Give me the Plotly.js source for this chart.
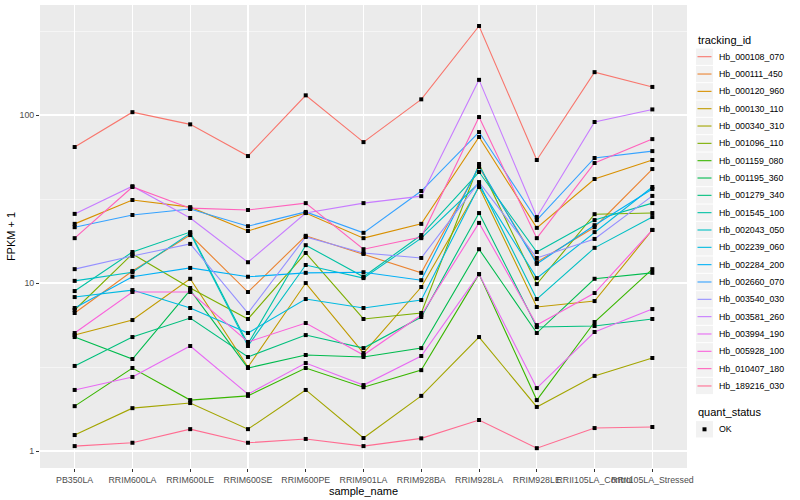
<!DOCTYPE html>
<html>
<head>
<meta charset="utf-8">
<script src="https://cdn.plot.ly/plotly-3.0.1.min.js"></script>
<style>html,body{margin:0;padding:0;background:#fff;}#chart{width:800px;height:500px;}</style>
</head>
<body>
<div id="chart"></div>
<script>
const categories = ["PB350LA","RRIM600LA","RRIM600LE","RRIM600SE","RRIM600PE","RRIM901LA","RRIM928BA","RRIM928LA","RRIM928LE","RRII105LA_Control","RRII105LA_Stressed"];

const trackingIds = ["Hb_000108_070","Hb_000111_450","Hb_000120_960","Hb_000130_110","Hb_000340_310","Hb_001096_110","Hb_001159_080","Hb_001195_360","Hb_001279_340","Hb_001545_100","Hb_002043_050","Hb_002239_060","Hb_002284_200","Hb_002660_070","Hb_003540_030","Hb_003581_260","Hb_003994_190","Hb_005928_100","Hb_010407_180","Hb_189216_030"];

const seriesColors = ["#F8766D","#EA8331","#D89000","#C09B00","#A3A500","#7CAE00","#39B600","#00BB4E","#00BF7D","#00C1A3","#00BFC4","#00BAE0","#00B0F6","#35A2FF","#9590FF","#C77CFF","#E76BF3","#FA62DB","#FF62BC","#FF6C91"];

const quantStatus = ["OK"];

// FPKM + 1 values, one array per tracking_id (order follows categories)
const hb_000108_070 = [64.5, 104, 88, 57, 131, 69, 124, 339, 54, 180, 147];
const hb_000111_450 = [6.63, 11.8, 19.3, 8.84, 19.1, 14.9, 11.5, 49.0, 13.3, 21.5, 47.7];
const hb_000120_960 = [22.5, 31.2, 28.3, 20.4, 26.1, 18.5, 22.5, 74, 21.3, 41.6, 54];
const hb_000130_110 = [4.90, 6.02, 10.6, 3.16, 10.0, 3.83, 9.47, 37.3, 7.20, 7.81, 20.7];
const hb_000340_310 = [1.245, 1.80, 1.93, 1.35, 2.31, 1.195, 2.13, 4.77, 1.83, 2.80, 3.58];
const hb_001096_110 = [6.91, 14.9, 9.34, 6.11, 15.1, 6.11, 6.63, 51.1, 9.86, 25.7, 26.1];
const hb_001159_080 = [1.85, 3.12, 2.01, 2.13, 3.12, 2.40, 3.03, 11.3, 2.01, 5.86, 12.1];
const hb_001195_360 = [4.77, 3.53, 9.08, 3.12, 3.73, 3.63, 4.10, 15.9, 5.04, 10.6, 11.5];
const hb_001279_340 = [3.21, 4.77, 6.19, 3.63, 4.90, 4.10, 6.28, 26.1, 5.47, 5.55, 6.11];
const hb_001545_100 = [8.96, 15.3, 20.1, 4.34, 16.8, 10.9, 19.3, 45.8, 15.3, 23.7, 29.9];
const hb_002043_050 = [10.3, 11.6, 19.8, 4.22, 12.8, 10.7, 18.5, 39.4, 8.03, 16.2, 24.7];
const hb_002239_060 = [8.25, 9.08, 7.10, 5.04, 8.03, 7.10, 7.92, 37.8, 10.7, 20.1, 37.3];
const hb_002284_200 = [7.10, 10.9, 12.3, 10.9, 11.5, 11.6, 10.4, 49.7, 13.0, 22.1, 36.3];
const hb_002660_070 = [21.5, 25.4, 27.6, 21.8, 26.5, 19.9, 35.3, 79.2, 23.7, 55.5, 61];
const hb_003540_030 = [12.1, 14.5, 17.1, 6.63, 18.8, 15.1, 14.1, 39.9, 14.1, 18.3, 33.0];
const hb_003581_260 = [25.8, 37.7, 24.4, 13.3, 26.1, 29.9, 32.9, 162, 24.7, 90.9, 108];
const hb_003994_190 = [2.31, 2.76, 4.22, 2.18, 3.34, 2.47, 3.68, 11.3, 2.37, 5.11, 7.0];
const hb_005928_100 = [5.04, 8.84, 8.84, 4.46, 5.78, 3.73, 6.45, 22.8, 5.62, 8.72, 20.7];
const hb_010407_180 = [18.5, 37.3, 27.9, 27.2, 29.9, 15.9, 18.8, 97.3, 18.5, 51.8, 71.9];
const hb_189216_030 = [1.07, 1.12, 1.35, 1.12, 1.18, 1.07, 1.19, 1.53, 1.04, 1.37, 1.39];

const seriesValues = [hb_000108_070, hb_000111_450, hb_000120_960, hb_000130_110, hb_000340_310, hb_001096_110, hb_001159_080, hb_001195_360, hb_001279_340, hb_001545_100, hb_002043_050, hb_002239_060, hb_002284_200, hb_002660_070, hb_003540_030, hb_003581_260, hb_003994_190, hb_005928_100, hb_010407_180, hb_189216_030];

const yTickVals = [1, 10, 100];
const yTickText = ["1", "10", "100"];
const yMinorVals = [3.1623, 31.623, 316.23];

const FONT = "Liberation Sans, Arial, Helvetica, sans-serif";

// plot-area geometry (pixels)
const W = 800, H = 500;
const M = {l: 40, r: 113, t: 5, b: 32};
const PW = W - M.l - M.r, PH = H - M.t - M.b;
const px = x => (x - M.l) / PW;          // pixel x -> paper x
const py = y => (H - M.b - y) / PH;      // pixel y -> paper y

const traces = trackingIds.map((id, i) => ({
  type: "scatter",
  mode: "lines",
  x: categories,
  y: seriesValues[i],
  name: id,
  showlegend: false,
  line: {color: seriesColors[i], width: 1.1},
  hoverinfo: "name+y"
}));

// all points (quant_status = OK) drawn on top
const allX = [], allY = [];
seriesValues.forEach(vals => vals.forEach((v, j) => { allX.push(categories[j]); allY.push(v); }));
traces.push({
  type: "scatter",
  mode: "markers",
  x: allX,
  y: allY,
  name: quantStatus[0],
  showlegend: false,
  marker: {color: "#000000", symbol: "square", size: 4},
  hoverinfo: "y"
});

// ggplot-style legends (keys + labels)
const shapes = [], annotations = [];
const legX = 696, keyW = 17, step = 17.33, firstY = 56.7;
annotations.push({xref: "paper", yref: "paper", x: px(legX), y: py(40), text: "tracking_id",
  showarrow: false, xanchor: "left", yanchor: "middle", font: {family: FONT, size: 11, color: "#000"}});
trackingIds.forEach((id, i) => {
  const cy = firstY + i * step;
  shapes.push({type: "rect", xref: "paper", yref: "paper", x0: px(legX), x1: px(legX + keyW),
    y0: py(cy - step / 2 + 0.5), y1: py(cy + step / 2 - 0.5), fillcolor: "#F2F2F2", line: {width: 0}, layer: "below"});
  shapes.push({type: "line", xref: "paper", yref: "paper", x0: px(legX + 1.5), x1: px(legX + keyW - 1.5),
    y0: py(cy), y1: py(cy), line: {color: seriesColors[i], width: 1.1}});
  annotations.push({xref: "paper", yref: "paper", x: px(legX + keyW + 3.5), y: py(cy), text: id,
    showarrow: false, xanchor: "left", yanchor: "middle", font: {family: FONT, size: 8.8, color: "#000"}});
});
annotations.push({xref: "paper", yref: "paper", x: px(legX), y: py(412.3), text: "quant_status",
  showarrow: false, xanchor: "left", yanchor: "middle", font: {family: FONT, size: 11, color: "#000"}});
{
  const cy = 429.3;
  shapes.push({type: "rect", xref: "paper", yref: "paper", x0: px(legX), x1: px(legX + keyW),
    y0: py(cy - step / 2 + 0.5), y1: py(cy + step / 2 - 0.5), fillcolor: "#F2F2F2", line: {width: 0}, layer: "below"});
  shapes.push({type: "rect", xref: "paper", yref: "paper", x0: px(legX + keyW / 2 - 2), x1: px(legX + keyW / 2 + 2),
    y0: py(cy - 2), y1: py(cy + 2), fillcolor: "#000000", line: {width: 0}});
  annotations.push({xref: "paper", yref: "paper", x: px(legX + keyW + 3.5), y: py(cy), text: quantStatus[0],
    showarrow: false, xanchor: "left", yanchor: "middle", font: {family: FONT, size: 8.8, color: "#000"}});
}

const layout = {
  width: W,
  height: H,
  margin: M,
  paper_bgcolor: "#FFFFFF",
  plot_bgcolor: "#EBEBEB",
  font: {family: FONT, color: "#000000", size: 9},
  showlegend: false,
  shapes: shapes,
  annotations: annotations,
  xaxis: {
    type: "category",
    categoryorder: "array",
    categoryarray: categories,
    range: [-0.6, 10.6],
    showgrid: true,
    gridcolor: "#FFFFFF",
    gridwidth: 1.1,
    zeroline: false,
    showline: false,
    ticks: "outside",
    ticklen: 3,
    tickwidth: 1,
    tickcolor: "#333333",
    tickangle: 0,
    tickfont: {family: FONT, size: 8.8, color: "#4D4D4D"},
    title: {text: "sample_name", font: {family: FONT, size: 11, color: "#000000"}, standoff: 0},
    fixedrange: true
  },
  yaxis: {
    type: "log",
    range: [-0.101, 2.655],
    tickmode: "array",
    tickvals: yTickVals,
    ticktext: yTickText,
    showgrid: true,
    gridcolor: "#FFFFFF",
    gridwidth: 1.1,
    zeroline: false,
    showline: false,
    ticks: "outside",
    ticklen: 3,
    tickwidth: 1,
    tickcolor: "#333333",
    tickfont: {family: FONT, size: 8.8, color: "#4D4D4D"},
    minor: {tickmode: "array", tickvals: yMinorVals, showgrid: true, gridcolor: "#FFFFFF", gridwidth: 0.5, ticks: ""},
    title: {text: "FPKM + 1", font: {family: FONT, size: 11, color: "#000000"}, standoff: 1},
    fixedrange: true
  }
};

Plotly.newPlot("chart", traces, layout, {displayModeBar: false, staticPlot: true});
</script>
</body>
</html>
